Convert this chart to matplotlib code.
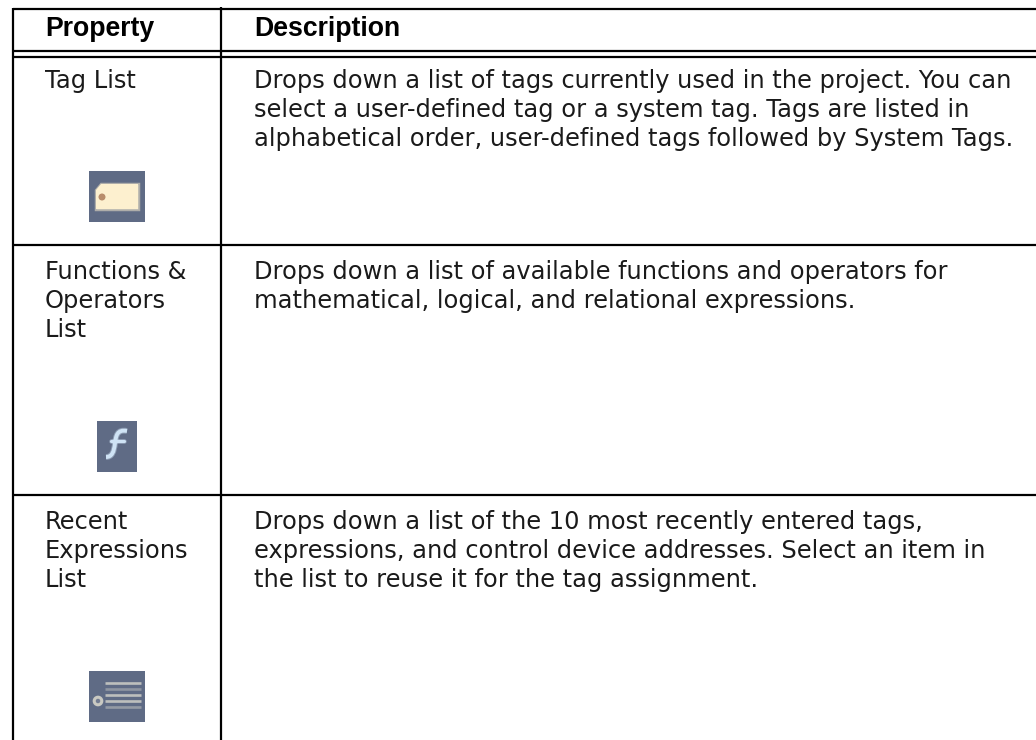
import matplotlib
matplotlib.use("Agg")
import matplotlib.pyplot as plt
from matplotlib.patches import Rectangle, Polygon, Circle, PathPatch
from matplotlib.path import Path

headers = ["Property", "Description"]
properties = ["Tag List", "Functions &\nOperators\nList", "Recent\nExpressions\nList"]
descriptions = [
    ["Drops down a list of tags currently used in the project. You can",
     "select a user-defined tag or a system tag. Tags are listed in",
     "alphabetical order, user-defined tags followed by System Tags."],
    ["Drops down a list of available functions and operators for",
     "mathematical, logical, and relational expressions."],
    ["Drops down a list of the 10 most recently entered tags,",
     "expressions, and control device addresses. Select an item in",
     "the list to reuse it for the tag assignment."],
]

ICON_BG = "#5f6b85"
TEXT = "#1a1a1a"
LINE_H = 29

fig = plt.figure(figsize=(10.36, 7.4), dpi=100)
ax = fig.add_axes([0, 0, 1, 1])
ax.set_xlim(0, 1036)
ax.set_ylim(740, 0)
ax.axis("off")

# table rules
for y in [9, 51, 57, 245, 495]:
    ax.plot([13, 1036], [y, y], color="black", lw=1.6, solid_capstyle="butt")
ax.plot([13, 13], [8, 740], color="black", lw=1.6, solid_capstyle="butt")
ax.plot([221, 221], [7, 740], color="black", lw=1.6, solid_capstyle="butt")

# header
ax.text(45, 29, headers[0], family="Liberation Sans", weight="bold", fontsize=19.2, va="center")
ax.text(254, 29, headers[1], family="Liberation Sans", weight="bold", fontsize=19.2, va="center")

# rows
row_tops = [81, 272, 522]
for top, prop, desc in zip(row_tops, properties, descriptions):
    for i, line in enumerate(prop.split("\n")):
        ax.text(45, top + i * LINE_H, line, family="DejaVu Sans", fontsize=17.35, color=TEXT, va="center")
    for i, line in enumerate(desc):
        ax.text(254, top + i * LINE_H, line, family="DejaVu Sans", fontsize=17.35, color=TEXT, va="center")

# tag icon
ax.add_patch(Rectangle((89, 171), 56, 51, color=ICON_BG, lw=0))
tag = [(101, 184), (138, 184), (138, 209), (96, 209), (96, 190)]
ax.add_patch(Polygon(tag, closed=True, fc="#fdf0cf", ec="#fdf0cf", lw=2.5, alpha=0.5))
ax.add_patch(Polygon(tag, closed=True, fc="#fdf0cf", ec="none", lw=0))
ax.add_patch(Circle((102, 197), 3.5, color="#b98d6c", lw=0))

# function icon, the f is drawn as a stroke so it keeps the script shape
ax.add_patch(Rectangle((97, 421), 40, 51, color=ICON_BG, lw=0))
f_curve = Path([(127, 431), (117, 429), (116, 436), (115, 443), (114, 452), (112, 457), (106, 457)],
               [Path.MOVETO] + [Path.CURVE4] * 6)
f_bar = [(111, 441), (124, 441)]
for lw, a in [(4.2, 0.4), (2.8, 1)]:
    ax.add_patch(PathPatch(f_curve, fc="none", ec="#cfe3f5", lw=lw, alpha=a))
    ax.plot(*zip(*f_bar), color="#cfe3f5", lw=lw * 0.8, alpha=a, solid_capstyle="round")

# list icon
ax.add_patch(Rectangle((89, 671), 56, 51, color=ICON_BG, lw=0))
for y, a in zip([683, 689, 695, 701, 707], [0.8, 0.4, 0.8, 0.8, 0.45]):
    ax.plot([105, 141], [y, y], color="#d5d5cc", lw=1.9, alpha=a, solid_capstyle="butt")
ax.add_patch(Circle((98, 701), 3.8, fc="#727c92", ec="#c9c9c2", lw=2.2))

fig.savefig("out.png", dpi=100)
